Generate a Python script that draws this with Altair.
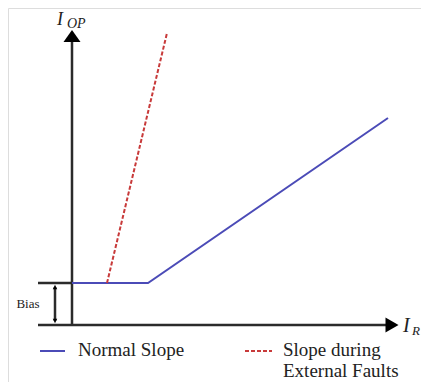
import altair as alt
import pandas as pd

# Schematic units: origin at the intersection of the axes
normal_x = [0, 76, 316]
normal_y = [42, 42, 207]
fault_x = [35, 95]
fault_y = [42, 292]
bias_level = 42

legend_labels = ["Normal Slope", "Slope during", "External Faults"]
axis_labels = ["I", "OP", "I", "R", "Bias"]

AXIS_COL = "#2b2b2b"
BLUE = "#4b4bb7"
RED = "#c83a3a"
SERIF = "Liberation Serif"

xs = alt.Scale(domain=[-64, 349], nice=False, zero=False)
ys = alt.Scale(domain=[-57, 317], nice=False, zero=False)


def X(f="x"):
    return alt.X(f"{f}:Q", scale=xs, axis=None)


def Y(f="y"):
    return alt.Y(f"{f}:Q", scale=ys, axis=None)


normal = pd.DataFrame({"x": normal_x, "y": normal_y, "i": range(len(normal_x))})
fault = pd.DataFrame({"x": fault_x, "y": fault_y, "i": range(len(fault_x))})

segs = pd.DataFrame({
    "x": [-34, 0, -34, -17],
    "y": [0, 0, bias_level, 4],
    "x2": [314, 0, 0, -17],
    "y2": [0, 285, bias_level, bias_level - 4],
})

axes = alt.Chart(segs).mark_rule(color=AXIS_COL, strokeWidth=2.5).encode(
    x=X(), y=Y(), x2="x2:Q", y2="y2:Q")

up_tri = "M-1,0.7L1,0.7L0,-0.7Z"
right_tri = "M-0.87,-1L-0.87,1L0.87,0Z"
small_up = "M-1,1L1,1L0,-1Z"
small_down = "M-1,-1L1,-1L0,1Z"


def head(x, y, shape, size):
    return alt.Chart(pd.DataFrame({"x": [x], "y": [y]})).mark_point(
        shape=shape, size=size, filled=True, color="#000", opacity=1, strokeWidth=0
    ).encode(x=X(), y=Y())


heads = [
    head(0, 289, up_tri, 289),
    head(320, 0, right_tri, 225),
    head(-17, bias_level - 4, small_up, 20),
    head(-17, 4, small_down, 20),
]

normal_line = alt.Chart(normal).mark_line(color=BLUE, strokeWidth=2).encode(
    x=X(), y=Y(), order="i:Q")
fault_line = alt.Chart(fault).mark_line(color=RED, strokeWidth=2, strokeDash=[4, 2]).encode(
    x=X(), y=Y(), order="i:Q")


def txt(x, y, t, size, italic=False, align="left", baseline="alphabetic"):
    return alt.Chart(pd.DataFrame({"x": [x], "y": [y], "t": [t]})).mark_text(
        font=SERIF, fontSize=size, fontStyle="italic" if italic else "normal",
        align=align, baseline=baseline, color="#222"
    ).encode(x=X(), y=Y(), text="t:N")


texts = [
    txt(-15, 300, axis_labels[0], 18, True),
    txt(-5, 297, axis_labels[1], 14, True),
    txt(331, -7, axis_labels[2], 20, True),
    txt(340, -10, axis_labels[3], 13, True),
    txt(-44, 21, axis_labels[4], 13, False, "center", "middle"),
    txt(6, -31, legend_labels[0], 19),
    txt(211, -31, legend_labels[1], 19),
    txt(211, -52, legend_labels[2], 19),
]

leg = pd.DataFrame({"x": [-32], "y": [-26], "x2": [-7]})
leg_blue = alt.Chart(leg).mark_rule(color=BLUE, strokeWidth=2).encode(
    x=X(), y=Y(), x2="x2:Q")
leg2 = pd.DataFrame({"x": [173], "y": [-26], "x2": [200]})
leg_red = alt.Chart(leg2).mark_rule(color=RED, strokeWidth=2, strokeDash=[4, 2]).encode(
    x=X(), y=Y(), x2="x2:Q")

chart = alt.layer(
    axes, normal_line, fault_line, *heads, *texts, leg_blue, leg_red
).properties(
    width=413, height=374, padding=0, autosize=alt.AutoSizeParams(type="none")
).configure_view(stroke=None).configure(background="white")

chart.save("out.html", embed_options={"renderer": "svg", "actions": False})
